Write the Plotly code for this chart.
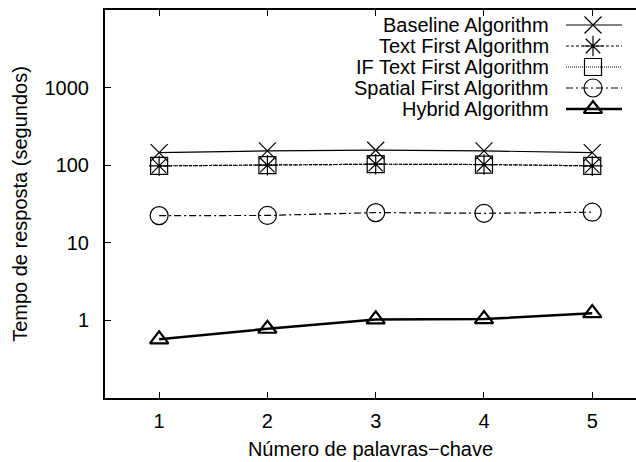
import plotly.graph_objects as go

# Keyword counts on the x axis
keywords = [1, 2, 3, 4, 5]

# Response times (seconds) per algorithm
baseline = [145, 153, 156, 153, 145]
text_first = [98, 100, 103, 102, 98]
if_text_first = [98, 100, 103, 102, 98]
spatial_first = [22.4, 22.5, 24.5, 24.0, 24.8]
hybrid = [0.57, 0.78, 1.03, 1.04, 1.24]

series_names = [
    "Baseline Algorithm",
    "Text First Algorithm",
    "IF Text First Algorithm",
    "Spatial First Algorithm",
    "Hybrid Algorithm",
]

y_tick_values = [1, 10, 100, 1000]
y_tick_labels = ["1", "10", "100", "1000"]

FONT = "Liberation Sans, Arial, Helvetica, sans-serif"
FS = 20

# Canvas geometry (pixels)
W, H = 636, 462
ML, MR, MT, MB = 105, 0, 10, 64

styles = [
    dict(symbol="x-thin-open", size=17, lw=1.2, dash="solid", mlw=1.2),
    dict(symbol="asterisk-open", size=17, lw=1.2, dash="3px,2px", mlw=1.2),
    dict(symbol="square-open", size=17, lw=1.2, dash="1px,1px", mlw=1.2),
    dict(symbol="circle-open", size=18, lw=1.2, dash="7px,3px,2px,3px", mlw=1.2),
    dict(symbol="triangle-up-open", size=16, lw=2.5, dash="solid", mlw=2.2),
]

data = [baseline, text_first, if_text_first, spatial_first, hybrid]

fig = go.Figure()

for name, vals, st in zip(series_names, data, styles):
    fig.add_trace(
        go.Scatter(
            x=keywords,
            y=vals,
            name=name,
            mode="lines+markers",
            line=dict(color="black", width=st["lw"], dash=st["dash"]),
            marker=dict(
                symbol=st["symbol"],
                size=st["size"],
                color="black",
                line=dict(color="black", width=st["mlw"]),
            ),
            showlegend=False,
            cliponaxis=True,
        )
    )

# Key drawn in the top-right corner: right-aligned labels, sample to the right
key_text_right = 551
key_line = (566, 622)
key_marker_x = 593
key_rows = [25, 46, 67, 88, 109]

for name, st, ky in zip(series_names, styles, key_rows):
    fig.add_trace(
        go.Scatter(
            x=[key_line[0], key_line[1]],
            y=[ky, ky],
            mode="lines",
            line=dict(color="black", width=st["lw"], dash=st["dash"]),
            xaxis="x2",
            yaxis="y2",
            showlegend=False,
            hoverinfo="skip",
        )
    )
    fig.add_trace(
        go.Scatter(
            x=[key_marker_x],
            y=[ky],
            mode="markers",
            marker=dict(
                symbol=st["symbol"],
                size=st["size"],
                color="black",
                line=dict(color="black", width=st["mlw"]),
            ),
            xaxis="x2",
            yaxis="y2",
            showlegend=False,
            hoverinfo="skip",
        )
    )
    fig.add_annotation(
        x=key_text_right,
        y=ky,
        xref="x2",
        yref="y2",
        text=name,
        showarrow=False,
        xanchor="right",
        yanchor="middle",
        font=dict(family=FONT, size=FS, color="black"),
    )

axis_font = dict(family=FONT, size=FS, color="black")

fig.update_layout(
    width=W,
    height=H,
    margin=dict(l=ML, r=MR, t=MT, b=MB),
    paper_bgcolor="white",
    plot_bgcolor="white",
    font=axis_font,
    xaxis=dict(
        range=[0.5, 5.404],
        tickvals=keywords,
        ticktext=[str(k) for k in keywords],
        ticks="inside",
        ticklen=6,
        tickwidth=1,
        tickcolor="black",
        tickfont=axis_font,
        ticklabelstandoff=4,
        showline=True,
        linewidth=2,
        linecolor="black",
        mirror="ticks",
        showgrid=False,
        zeroline=False,
        automargin=False,
        title=dict(text="Número de palavras−chave", standoff=11, font=axis_font),
    ),
    yaxis=dict(
        type="log",
        range=[-1, 4],
        tickvals=y_tick_values,
        ticktext=y_tick_labels,
        ticks="inside",
        ticklen=6,
        tickwidth=1,
        tickcolor="black",
        tickfont=axis_font,
        ticklabelstandoff=10,
        showline=True,
        linewidth=2,
        linecolor="black",
        mirror=False,
        showgrid=False,
        zeroline=False,
        automargin=False,
        title=dict(text="Tempo de resposta (segundos)", standoff=12, font=axis_font),
    ),
    xaxis2=dict(
        overlaying="x",
        range=[ML, W - MR],
        visible=False,
    ),
    yaxis2=dict(
        overlaying="y",
        range=[H - MB, MT],
        visible=False,
    ),
)

fig.write_html("out.html")
